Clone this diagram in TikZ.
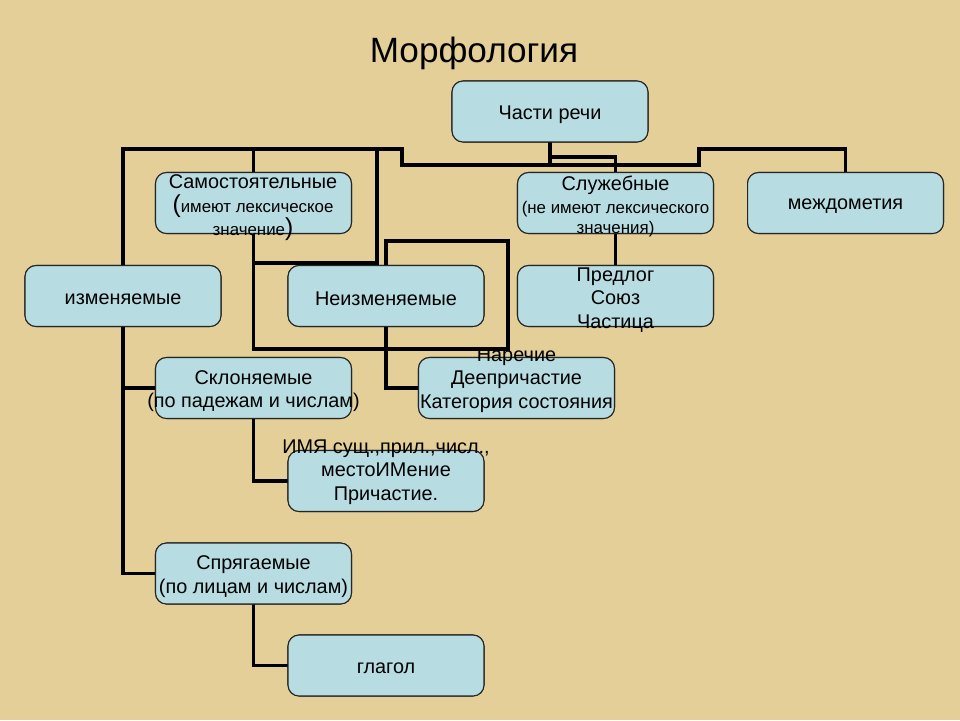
\documentclass[tikz,border=0pt]{standalone}
\usepackage{fontspec}
\setmainfont{Liberation Sans}
\definecolor{papyrus}{RGB}{229,207,152}
\definecolor{boxblue}{RGB}{183,221,227}
\newcommand{\smalltxt}{\fontsize{9.6}{11.2}\selectfont}
\newcommand{\bigparen}{\fontsize{14}{14}\selectfont}

\begin{document}
\begin{tikzpicture}[x=0.02cm, y=-0.02cm,
	box/.style={draw=black!85, line width=0.6pt, fill=boxblue, rounded corners=0.22cm,
		minimum width=3.92cm, minimum height=1.22cm, inner sep=0pt},
	txt/.style={align=center, inner sep=0pt, yshift=-0.06cm, font=\fontsize{11.3}{13.4}\selectfont},
	link/.style={line width=1.9pt, line cap=rect, black}]
	\fill[papyrus] (0,0) rectangle (960,720);
	\node[font=\fontsize{20}{24}\selectfont] (title) at (474,53) {Морфология};

	% boxes
	\node[box] (chasti) at (550,111.5) {};
	\node[box] (samost) at (253.5,203) {};
	\node[box] (sluzh)  at (615.5,203) {};
	\node[box] (mezhd)  at (845.5,203) {};
	\node[box] (izm)    at (123,296) {};
	\node[box] (neizm)  at (386,296) {};
	\node[box] (predl)  at (615.5,296) {};
	\node[box] (sklon)  at (253.5,388) {};
	\node[box] (narech) at (516.5,388) {};
	\node[box] (imya)   at (386,481) {};
	\node[box] (spryag) at (253.5,573.5) {};
	\node[box] (glagol) at (386,665.5) {};

	% junctions of the connectors
	\coordinate (barL) at (123,149);
	\coordinate (barR) at (402,149);
	\coordinate (barM) at (402,165);
	\coordinate (barE) at (699,165);
	\coordinate (tap) at (550,157);
	\coordinate (drop) at (377,149);
	\coordinate (kneeA) at (377,263);
	\coordinate (frameR) at (508,349);
	\coordinate (frameT) at (508,241);

	\draw[link] (chasti.south) -- (chasti.south |- barM);
	\draw[link] (barL) -- (barR) -- (barM) -- (barE) |- (mezhd.north |- barL) -- (mezhd.north);
	\draw[link] (tap) -| (sluzh.north);
	\draw[link] (barL) -- (izm.north);
	\draw[link] (samost.north |- barL) -- (samost.north);
	\draw[link] (drop) -- (kneeA) -- (kneeA -| samost.south);
	\draw[link] (samost.south) |- (frameR) -- (frameT) -| (neizm.north);
	\draw[link] (neizm.south) |- (narech.west);
	\draw[link] (sluzh.south) -- (predl.north);
	\draw[link] (izm.south) |- (sklon.west);
	\draw[link] (izm.south) |- (spryag.west);
	\draw[link] (sklon.south) |- (imya.west);
	\draw[link] (spryag.south) |- (glagol.west);

	% boxes again on top of the lines
	\foreach \b in {chasti,samost,sluzh,mezhd,izm,neizm,predl,sklon,narech,imya,spryag,glagol}
		\node[box] at (\b) {};

	% texts
	\node[txt] (tchasti) at (chasti) {Части речи};
	\node[txt] (tsamost) at (253,205) {Самостоятельные\\{\bigparen(}{\smalltxt имеют лексическое}\\{\smalltxt значение}{\bigparen)}};
	\node[txt] (tsluzh)  at (615.5,203) {Служебные\\{\smalltxt(не имеют лексического}\\[-2.3pt]{\smalltxt значения)}};
	\node[txt] (tmezhd)  at (mezhd) {междометия};
	\node[txt] (tizm)    at (izm) {изменяемые};
	\node[txt] (tneizm)  at (neizm) {Неизменяемые};
	\node[txt] (tpredl)  at (615.5,297) {Предлог\\Союз\\Частица};
	\node[txt] (tsklon)  at (sklon) {Склоняемые\\(по падежам и числам)};
	\node[txt] (tnarech) at (516.5,377) {Наречие\\Деепричастие\\Категория состояния};
	\node[txt] (timya)   at (386,469) {ИМЯ сущ.,прил.,числ.,\\местоИМение\\Причастие.};
	\node[txt] (tspryag) at (spryag) {Спрягаемые\\(по лицам и числам)};
	\node[txt] (tglagol) at (glagol) {глагол};
\end{tikzpicture}
\end{document}
